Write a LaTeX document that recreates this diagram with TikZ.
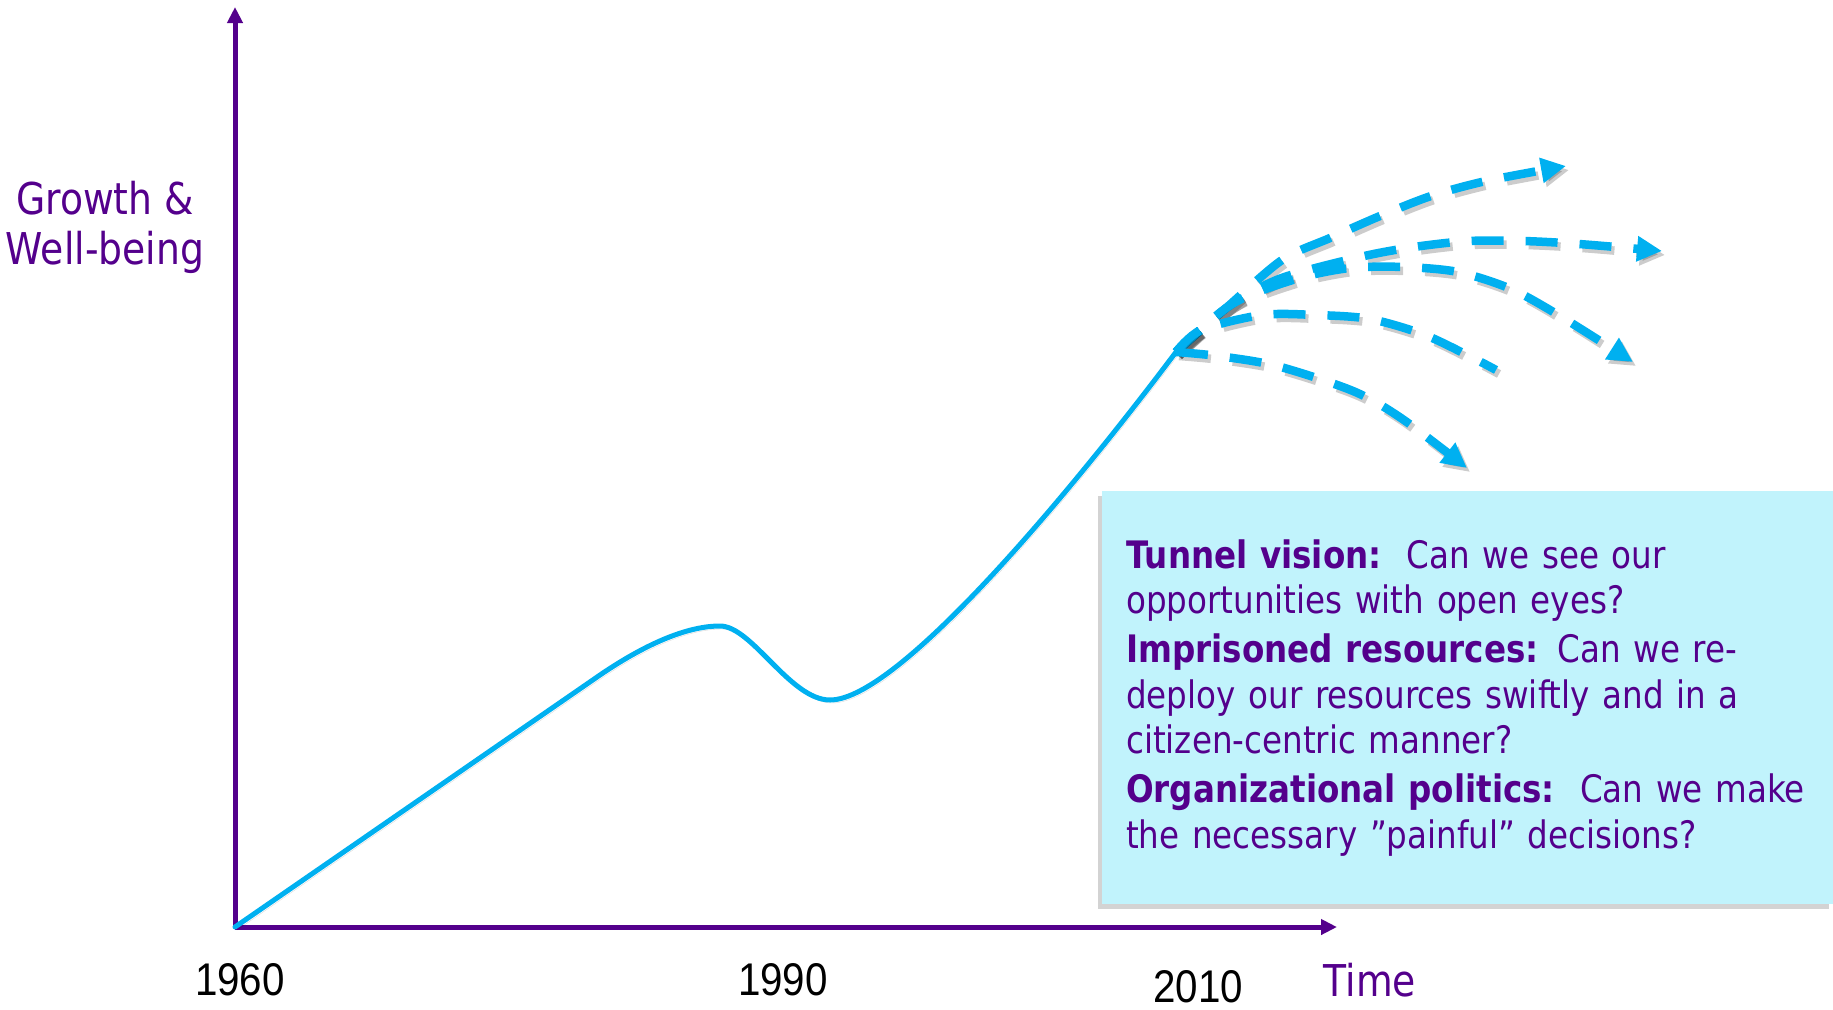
\documentclass[tikz,border=0pt]{standalone}
\usepackage{fontspec}
\setmainfont{DejaVu Sans}[FakeStretch=0.86]
\newfontfamily\yearfont{Liberation Sans}[FakeStretch=0.88]
\usepackage{tikz}
\usetikzlibrary{arrows.meta,shadows}

\definecolor{axispurple}{RGB}{84,0,140}
\definecolor{curveblue}{RGB}{0,176,240}
\definecolor{boxcyan}{RGB}{193,243,252}

\begin{document}
\begin{tikzpicture}[x=1bp,y=-1bp,
	axis/.style={draw=axispurple,line width=5bp,-{Triangle[length=16bp,width=15bp]}},
	growth/.style={draw=curveblue,line width=5bp,line cap=round,
		preaction={draw=black,opacity=.15,transform canvas={xshift=2bp,yshift=-3bp}}},
	dashes/.style={dash pattern=on 32bp off 22bp},
	outlook/.style={draw=curveblue,line width=8.5bp,dashes,
		preaction={draw=black,opacity=.2,line width=8.5bp,dashes,
			transform canvas={xshift=3bp,yshift=-4bp}}},
	tip/.style={-{Triangle[length=25bp,width=24bp]}},
	axislabel/.style={text=axispurple,font=\fontsize{44}{50}\selectfont,align=center},
	year/.style={font=\yearfont\fontsize{46}{50}\selectfont,inner sep=0pt},
	infobox/.style={fill=boxcyan,anchor=north west,minimum width=731bp,minimum height=413bp,
		text width=683bp,inner sep=24bp,align=left,text=axispurple,
		font=\fontsize{38}{45.5}\selectfont,
		drop shadow={shadow xshift=-4bp,shadow yshift=-5bp,opacity=.35}}]
	\useasboundingbox (0,0) rectangle (1833,1009);

	% axes
	\coordinate (origin) at (235,927);
	\coordinate (ytop) at (235,7);
	\coordinate (xend) at (1337,927);
	\draw[axis] (origin) -- (ytop);
	\draw[axis] (origin) -- (xend);

	\node[axislabel] (ylabel) at (105,227) {Growth \&\\Well-being};
	\node[axislabel] (xlabel) at (1370,980) {Time};
	\node[year] (y1960) at (240,980) {1960};
	\node[year] (y1990) at (783,980) {1990};
	\node[year] (y2010) at (1198,987) {2010};

	% growth curve
	\coordinate (fork) at (1176,352);
	\draw[growth] (origin) -- (600,675) .. controls (650,641) and (690,626) .. (720,626)
		.. controls (752,626) and (790,700) .. (830,700)
		.. controls (900,700) and (1080,480) .. (fork);

	% possible futures
	\draw[outlook,tip] plot[smooth] coordinates {(fork) (1225,309) (1282,260) (1330,238)
		(1380,216) (1431,196) (1486,181) (1566,166)};
	\draw[outlook,tip] plot[smooth] coordinates {(fork) (1225,309) (1279,279) (1360,257)
		(1414,247) (1469,241) (1523,241) (1579,244) (1662,251)};
	\draw[outlook,tip] plot[smooth] coordinates {(fork) (1232,304) (1296,279) (1350,268)
		(1404,267) (1458,272) (1511,289) (1560,316) (1633,362)};
	\draw[outlook] plot[smooth] coordinates {(fork) (1201,330) (1262,315) (1316,315)
		(1370,319) (1425,335) (1475,359) (1496,370)};
	\draw[outlook,tip] plot[smooth] coordinates {(fork) (1218,356) (1277,366) (1353,391)
		(1401,418) (1467,468)};

	\node[infobox] (questions) at (1102,491) {%
		\textbf{Tunnel vision:}\ \ Can we see our\\
		opportunities with open eyes?\\[4bp]
		\textbf{Imprisoned resources:} Can we re-\\
		deploy our resources swiftly and in a\\
		citizen-centric manner?\\[4bp]
		\textbf{Organizational politics:}\ \ Can we make\\
		the necessary ”painful” decisions?};
\end{tikzpicture}
\end{document}
